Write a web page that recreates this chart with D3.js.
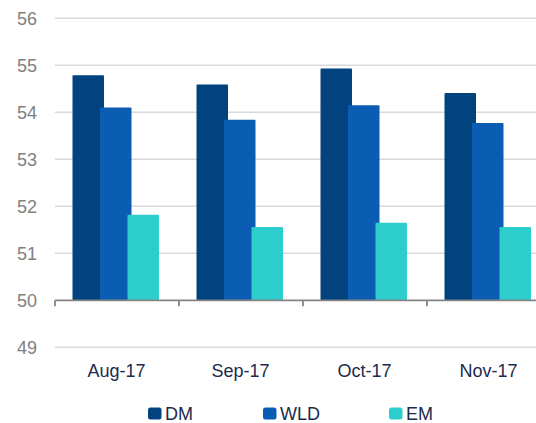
<!DOCTYPE html>
<html>
<head>
<meta charset="utf-8">
<script src="https://cdn.jsdelivr.net/npm/d3@7"></script>
<style>
  body { margin: 0; background: #fff; }
  svg { display: block; font-family: "Liberation Sans", Arial, sans-serif; }
</style>
</head>
<body>
<script>

var months = ["Aug-17", "Sep-17", "Oct-17", "Nov-17"];
var seriesNames = ["DM", "WLD", "EM"];
var dm  = [54.79, 54.59, 54.93, 54.41];
var wld = [54.10, 53.84, 54.15, 53.77];
var em  = [51.82, 51.56, 51.65, 51.56];
var yTicks = [49, 50, 51, 52, 53, 54, 55, 56];

var colors = {DM: "#02437f", WLD: "#0b5db3", EM: "#2ecdcd"};

var size_graph = {x: 536, y: 423};

var svg = d3.select("body").append("svg")
    .attr("width", size_graph.x)
    .attr("height", size_graph.y);

var x = d3.scaleBand()
    .domain(months)
    .range([55, 551]);

var inner = d3.scalePoint()
    .domain(seriesNames)
    .range([17.5, 72.5]);
var barW = 31.5;

var y = d3.scaleLinear()
    .domain([49, 56])
    .range([347.3, 18.3]);

// gridlines
svg.append("g")
    .selectAll("line")
    .data(yTicks.filter(d => d !== 50))
    .enter().append("line")
    .attr("x1", 55)
    .attr("x2", size_graph.x)
    .attr("y1", d => y(d))
    .attr("y2", d => y(d))
    .attr("stroke", "#d9d9d9")
    .attr("stroke-width", 1.5);

// y labels
svg.append("g")
    .selectAll("text")
    .data(yTicks)
    .enter().append("text")
    .attr("x", 37)
    .attr("y", d => y(d))
    .attr("dy", "0.35em")
    .attr("text-anchor", "end")
    .attr("font-size", 18)
    .attr("fill", "#808080")
    .text(d => d);

// bars
var rows = months.map((m, i) => ({month: m, DM: dm[i], WLD: wld[i], EM: em[i]}));

seriesNames.forEach(function(s) {
    svg.append("g")
        .selectAll("rect")
        .data(rows)
        .enter().append("rect")
        .attr("x", d => x(d.month) + inner(s))
        .attr("y", d => y(d[s]))
        .attr("width", barW)
        .attr("height", d => y(50) - y(d[s]))
        .attr("rx", 1)
        .attr("fill", colors[s]);
});

// category axis at 50
var xAxis = d3.axisBottom(x).tickSize(0).tickFormat("");
var ax = svg.append("g")
    .attr("transform", `translate(0,${y(50)})`)
    .call(xAxis);
ax.select(".domain").remove();
ax.append("line")
    .attr("x1", 55).attr("x2", size_graph.x)
    .attr("stroke", "#858585").attr("stroke-width", 1.8);
ax.selectAll(".sep")
    .data(months)
    .enter().append("line")
    .attr("x1", d => x(d)).attr("x2", d => x(d))
    .attr("y1", 0).attr("y2", 6)
    .attr("stroke", "#858585").attr("stroke-width", 1.8);

svg.append("g")
    .selectAll("text")
    .data(months)
    .enter().append("text")
    .attr("x", d => x(d) + x.bandwidth() / 2 - 0.5)
    .attr("y", 376.5)
    .attr("text-anchor", "middle")
    .attr("font-size", 18)
    .attr("fill", "#1b2b4d")
    .text(d => d);

// legend
var legendX = [148, 263, 389];
var lg = svg.append("g")
    .selectAll("g")
    .data(seriesNames)
    .enter().append("g")
    .attr("transform", (d, i) => `translate(${legendX[i]},0)`);
lg.append("rect")
    .attr("x", 0).attr("y", 407.5)
    .attr("width", 13.5).attr("height", 12)
    .attr("rx", 2.5)
    .attr("fill", d => colors[d]);
lg.append("text")
    .attr("x", 17)
    .attr("y", 420)
    .attr("font-size", 18)
    .attr("fill", "#1b2b4d")
    .text(d => d);

</script>
</body>
</html>
